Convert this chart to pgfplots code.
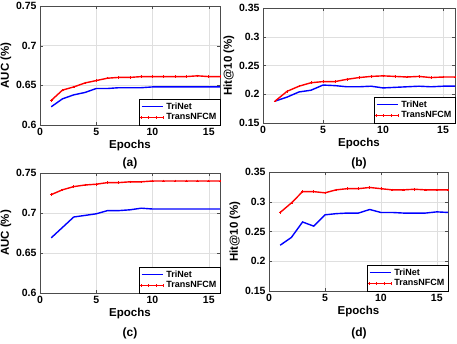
\documentclass[border=0pt]{standalone}
\usepackage{fontspec}
\setmainfont{Liberation Sans}
\setsansfont{Liberation Sans}
\usepackage{pgfplots}
\pgfplotsset{compat=1.18}

\pgfplotsset{
  panel/.style={
    scale only axis,
    anchor=south west,
    xmin=0, xmax=16,
    xtick={0,5,10,15},
    grid=major,
    grid style={solid,gray!25},
    axis line style={black!70},
    tick style={black!70},
    major tick length=3pt,
    tick label style={font=\fontsize{10.5}{11}\selectfont\bfseries},
    label style={font=\fontsize{11.5}{12}\selectfont\bfseries},
    /pgf/number format/assume math mode=true,
    yticklabel style={/pgf/number format/fixed,/pgf/number format/precision=2},
    xlabel={Epochs},
    xlabel style={yshift=3pt},
    ylabel style={yshift=-2pt},
    legend style={at={(1,0)},anchor=south east,font=\fontsize{9}{10}\selectfont\bfseries,
      draw=black,inner sep=1.5pt,row sep=-1pt,cells={anchor=west}},
    legend image code/.code={\draw[#1] plot coordinates {(0cm,0cm)(0.25cm,0cm)(0.5cm,0cm)(0.75cm,0cm)};},
  },
  tri/.style={color=blue,line width=1.4pt,mark=none},
  trans/.style={color=red,line width=1.4pt,mark=+,mark size=1.3pt,mark options={line width=0.7pt}},
}

\begin{document}
\begin{tikzpicture}
\useasboundingbox (0pt,0pt) rectangle (457pt,343pt);

% (a)
\begin{axis}[panel, at={(40pt,218pt)}, width=180pt, height=119pt,
  ymin=0.6, ymax=0.75, ytick={0.6,0.65,0.7,0.75}, ylabel={AUC (\%)}]
\addplot[tri] coordinates {
 (1,0.623)(2,0.633)(3,0.638)(4,0.641)(5,0.646)(6,0.646)(7,0.647)(8,0.647)
 (9,0.647)(10,0.648)(11,0.648)(12,0.648)(13,0.648)(14,0.648)(15,0.648)(16,0.648)};
\addlegendentry{TriNet}
\addplot[trans] coordinates {
 (1,0.631)(2,0.644)(3,0.648)(4,0.653)(5,0.656)(6,0.659)(7,0.660)(8,0.660)
 (9,0.661)(10,0.661)(11,0.661)(12,0.661)(13,0.661)(14,0.662)(15,0.661)(16,0.661)};
\addlegendentry{TransNFCM}
\end{axis}
\node[font=\fontsize{12}{13}\selectfont\bfseries] at (130pt,180pt) {(a)};

% (b)
\begin{axis}[panel, at={(263pt,220pt)}, width=192pt, height=115pt,
  ymin=0.15, ymax=0.35, ytick={0.15,0.2,0.25,0.3,0.35}, ylabel={Hit@10 (\%)}]
\addplot[tri] coordinates {
 (1,0.188)(2,0.195)(3,0.204)(4,0.207)(5,0.216)(6,0.215)(7,0.213)(8,0.213)
 (9,0.214)(10,0.211)(11,0.212)(12,0.213)(13,0.214)(14,0.213)(15,0.214)(16,0.214)};
\addlegendentry{TriNet}
\addplot[trans] coordinates {
 (1,0.188)(2,0.205)(3,0.214)(4,0.220)(5,0.222)(6,0.222)(7,0.226)(8,0.229)
 (9,0.231)(10,0.232)(11,0.231)(12,0.230)(13,0.231)(14,0.229)(15,0.230)(16,0.230)};
\addlegendentry{TransNFCM}
\end{axis}
\node[font=\fontsize{12}{13}\selectfont\bfseries] at (359pt,180pt) {(b)};

% (c)
\begin{axis}[panel, at={(40pt,50pt)}, width=180pt, height=120pt,
  ymin=0.6, ymax=0.75, ytick={0.6,0.65,0.7,0.75}, ylabel={AUC (\%)}]
\addplot[tri] coordinates {
 (1,0.669)(2,0.682)(3,0.695)(4,0.697)(5,0.699)(6,0.703)(7,0.703)(8,0.704)
 (9,0.706)(10,0.705)(11,0.705)(12,0.705)(13,0.705)(14,0.705)(15,0.705)(16,0.705)};
\addlegendentry{TriNet}
\addplot[trans] coordinates {
 (1,0.723)(2,0.729)(3,0.733)(4,0.735)(5,0.736)(6,0.738)(7,0.738)(8,0.739)
 (9,0.739)(10,0.740)(11,0.740)(12,0.740)(13,0.740)(14,0.740)(15,0.740)(16,0.740)};
\addlegendentry{TransNFCM}
\end{axis}
\node[font=\fontsize{12}{13}\selectfont\bfseries] at (130pt,10pt) {(c)};

% (d)
\begin{axis}[panel, at={(269pt,52pt)}, width=179pt, height=119pt,
  ymin=0.15, ymax=0.35, ytick={0.15,0.2,0.25,0.3,0.35}, ylabel={Hit@10 (\%)}]
\addplot[tri] coordinates {
 (1,0.227)(2,0.240)(3,0.266)(4,0.259)(5,0.278)(6,0.280)(7,0.281)(8,0.281)
 (9,0.287)(10,0.282)(11,0.282)(12,0.281)(13,0.281)(14,0.281)(15,0.283)(16,0.282)};
\addlegendentry{TriNet}
\addplot[trans] coordinates {
 (1,0.282)(2,0.298)(3,0.317)(4,0.317)(5,0.315)(6,0.320)(7,0.322)(8,0.322)
 (9,0.324)(10,0.322)(11,0.320)(12,0.320)(13,0.321)(14,0.320)(15,0.320)(16,0.320)};
\addlegendentry{TransNFCM}
\end{axis}
\node[font=\fontsize{12}{13}\selectfont\bfseries] at (359pt,10pt) {(d)};
\end{tikzpicture}
\end{document}
